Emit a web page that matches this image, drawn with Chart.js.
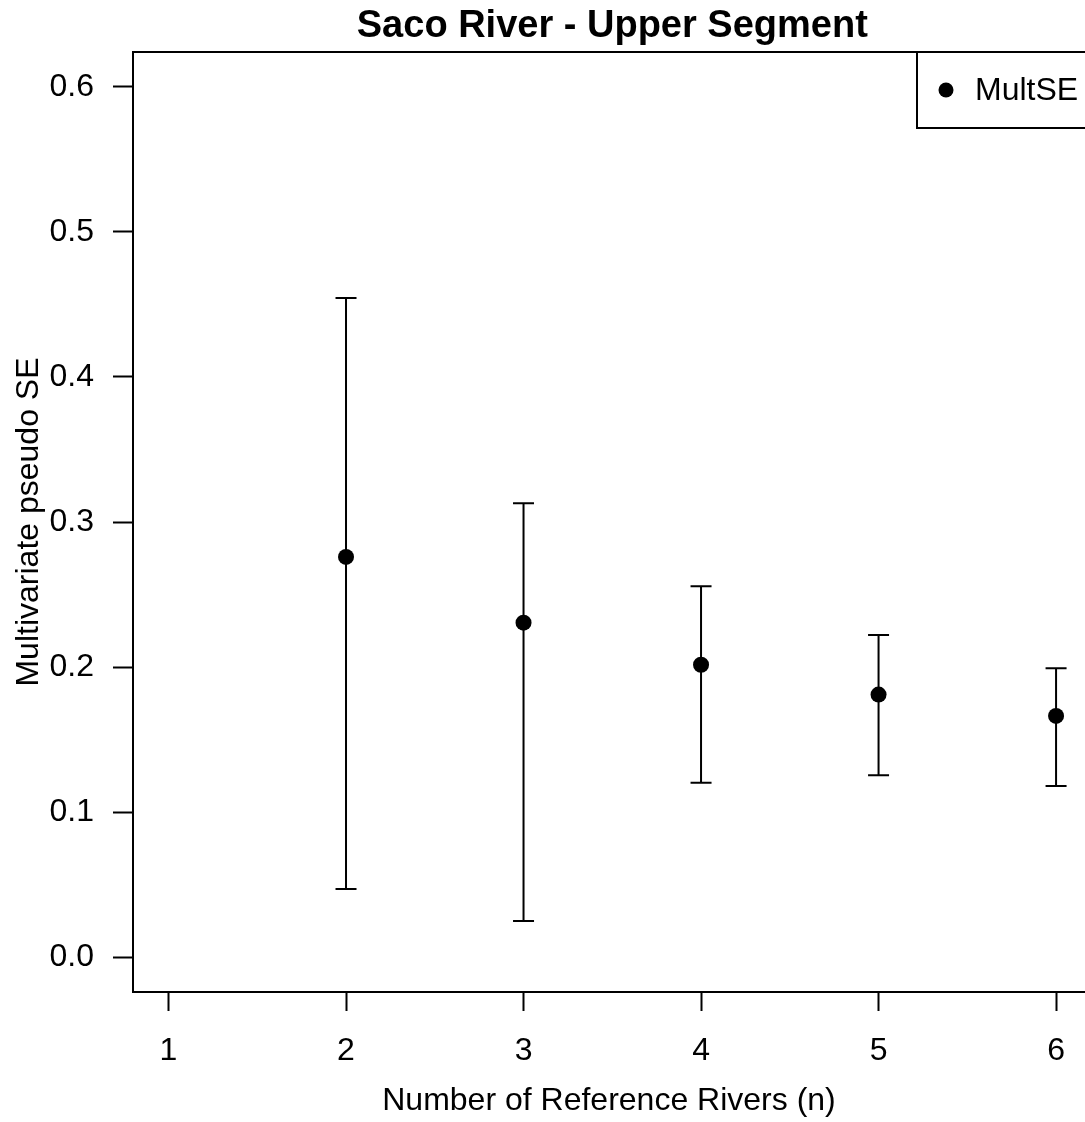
<!DOCTYPE html>
<html>
<head>
<meta charset="utf-8">
<script src="https://cdn.jsdelivr.net/npm/chart.js@4/dist/chart.umd.min.js"></script>
<style>
  html, body { margin: 0; padding: 0; background: #fff; overflow: hidden; }
  #wrap { width: 1085px; height: 1122px; }
</style>
</head>
<body>
<div id="wrap"><canvas id="chart" width="1085" height="1122"></canvas></div>
<script>
// ── Data ──────────────────────────────────────────────
const nRivers = [2, 3, 4, 5, 6];
const multSE = [0.2759, 0.2306, 0.2016, 0.1810, 0.1663];
const upperCI = [0.4544, 0.3129, 0.2557, 0.2221, 0.1992];
const lowerCI = [0.0470, 0.0250, 0.1203, 0.1254, 0.1180];
const xTicks = [1, 2, 3, 4, 5, 6];
const yTicks = [0.0, 0.1, 0.2, 0.3, 0.4, 0.5, 0.6];

const FONT = 'Arial, "Liberation Sans", Helvetica, sans-serif';
const INK = '#000';
// R pads xlim by 4% (0.8..6.2); the picture is cut a little before 6.2
const X_FULL_MAX = 6.2;

// error bars drawn through the scales
const errorBars = {
  id: 'errorBars',
  beforeDatasetsDraw(chart) {
    const { ctx, scales: { x, y } } = chart;
    const cap = 10.5;
    ctx.save();
    ctx.strokeStyle = INK;
    ctx.lineWidth = 2;
    nRivers.forEach((n, i) => {
      const px = x.getPixelForValue(n);
      const top = y.getPixelForValue(upperCI[i]);
      const bot = y.getPixelForValue(lowerCI[i]);
      ctx.beginPath();
      ctx.moveTo(px, top); ctx.lineTo(px, bot);
      ctx.moveTo(px - cap, top); ctx.lineTo(px + cap, top);
      ctx.moveTo(px - cap, bot); ctx.lineTo(px + cap, bot);
      ctx.stroke();
    });
    ctx.restore();
  },
};

// plot box + R style legend in the top right corner
const frame = {
  id: 'frame',
  afterLayout(chart) {
    // centre the title over the whole (uncut) plot region
    chart.titleBlock.right = chart.scales.x.getPixelForValue(X_FULL_MAX);
  },
  afterDraw(chart) {
    const { ctx, chartArea: a, scales: { x } } = chart;
    const right = x.getPixelForValue(X_FULL_MAX);
    ctx.save();
    ctx.strokeStyle = INK;
    ctx.lineWidth = 2;
    ctx.strokeRect(a.left, a.top, right - a.left, a.bottom - a.top);

    const lx = 917, ly = a.top, lh = 76;
    ctx.strokeRect(lx, ly, right - lx, lh);
    ctx.fillStyle = INK;
    ctx.beginPath();
    ctx.arc(lx + 29, ly + lh / 2, 7.5, 0, Math.PI * 2);
    ctx.fill();
    ctx.font = '32px ' + FONT;
    ctx.textBaseline = 'middle';
    ctx.textAlign = 'left';
    ctx.fillText(chart.data.datasets[0].label, lx + 58, ly + lh / 2 + 1);
    ctx.restore();
  },
};

// fixed axis sizes, and no extra room for the edge tick labels
const fixSize = (dim, size) => (s) => {
  s[dim] = size;
  s.paddingLeft = s.paddingRight = s.paddingTop = s.paddingBottom = 0;
};

new Chart(document.getElementById('chart'), {
  type: 'scatter',
  data: {
    datasets: [{
      label: 'MultSE',
      data: nRivers.map((n, i) => ({ x: n, y: multSE[i] })),
      backgroundColor: INK,
      borderColor: INK,
      pointRadius: 8,
      pointBorderWidth: 0,
    }],
  },
  options: {
    responsive: false,
    animation: false,
    devicePixelRatio: 1,
    layout: { padding: 0, autoPadding: false },
    plugins: {
      legend: { display: false },
      tooltip: { enabled: false },
      title: {
        display: true,
        fullSize: false,
        text: 'Saco River - Upper Segment',
        color: INK,
        font: { family: FONT, size: 38, weight: 'bold', lineHeight: 1.2 },
        padding: { top: 4, bottom: 2.4 },
      },
    },
    scales: {
      x: {
        type: 'linear',
        min: 0.8,
        max: 6.163,
        afterBuildTicks: (s) => { s.ticks = xTicks.map(v => ({ value: v })); },
        afterFit: fixSize('height', 130),
        grid: { drawOnChartArea: false, drawTicks: true, tickLength: 19, tickColor: INK, tickWidth: 2 },
        border: { display: false },
        ticks: { color: INK, font: { family: FONT, size: 32 }, padding: 21, maxRotation: 0 },
        title: {
          display: true,
          text: 'Number of Reference Rivers (n)',
          color: INK,
          font: { family: FONT, size: 32, lineHeight: 1.2 },
          padding: { top: 0, bottom: 2 },
        },
      },
      y: {
        type: 'linear',
        min: -0.024,
        max: 0.624,
        afterBuildTicks: (s) => { s.ticks = yTicks.map(v => ({ value: v })); },
        afterFit: fixSize('width', 133),
        grid: { drawOnChartArea: false, drawTicks: true, tickLength: 20, tickColor: INK, tickWidth: 2 },
        border: { display: false },
        ticks: { color: INK, font: { family: FONT, size: 32 }, padding: 19, callback: (v) => v.toFixed(1) },
        title: {
          display: true,
          text: 'Multivariate pseudo SE',
          color: INK,
          font: { family: FONT, size: 32, lineHeight: 1.2 },
          padding: { top: 10, bottom: 0 },
        },
      },
    },
  },
  plugins: [errorBars, frame],
});
</script>
</body>
</html>
